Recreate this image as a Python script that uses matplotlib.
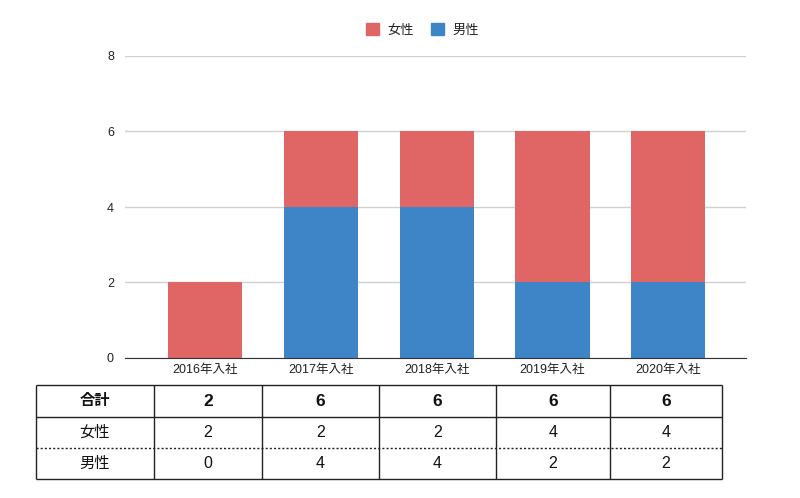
import numpy as np
import matplotlib.pyplot as plt
from matplotlib.patches import Patch

plt.rcParams['font.family'] = ['Liberation Sans', 'Noto Sans CJK JP', 'DejaVu Sans']

years = ['2016年入社', '2017年入社', '2018年入社', '2019年入社', '2020年入社']
female = [2, 2, 2, 4, 4]
male = [0, 4, 4, 2, 2]
c_female = '#e06666'
c_male = '#3d85c6'

W, H = 800, 498
fig = plt.figure(figsize=(W / 100, H / 100), dpi=100)

# chart area (pixel box converted to figure fraction)
ax = fig.add_axes([125 / W, 1 - 358 / H, (746 - 125) / W, (358 - 56) / H])
x = np.arange(len(years))
ax.bar(x, male, width=0.64, color=c_male, zorder=2)
ax.bar(x, female, width=0.64, bottom=male, color=c_female, zorder=2)
ax.set_xlim(-0.69, 4.67)
ax.set_ylim(0, 8)
ax.set_yticks([0, 2, 4, 6, 8])
ax.set_xticks(x, years)
ax.grid(axis='y', color='#d0d0d0', lw=1, zorder=0)
for s in ['top', 'right', 'left']:
    ax.spines[s].set_visible(False)
ax.spines['bottom'].set_color('#333333')
ax.tick_params(axis='both', length=0, labelsize=9, colors='#222222')
ax.tick_params(axis='x', pad=4)
ax.tick_params(axis='y', pad=8)

fig.legend(handles=[Patch(color=c_female, label='女性'), Patch(color=c_male, label='男性')],
           loc='center', bbox_to_anchor=(0.528, 1 - 30 / H), ncol=2, frameon=False,
           fontsize=9.5, handlelength=1.0, handleheight=1.0, columnspacing=1.3,
           handletextpad=0.6, labelcolor='#222222')

# table below the chart
tab = fig.add_axes([0, 0, 1, 1])
tab.set_xlim(0, W)
tab.set_ylim(H, 0)
tab.axis('off')
cols = [36, 154, 262, 379, 496, 610, 722]
rows = [385, 417, 448, 479]
tab.hlines([rows[0], rows[1], rows[3]], cols[0], cols[-1], color='#222222', lw=1)
tab.hlines(rows[2], cols[0], cols[-1], color='#222222', lw=1, linestyles=(0, (1.5, 1.5)))
tab.vlines(cols, rows[0], rows[-1], color='#222222', lw=1)

totals = [f + m for f, m in zip(female, male)]
row_data = [('合計', totals, 'bold'), ('女性', female, 'normal'), ('男性', male, 'normal')]
for r, (name, vals, wt) in enumerate(row_data):
    yc = (rows[r] + rows[r + 1]) / 2
    tab.text((cols[0] + cols[1]) / 2, yc, name, ha='center', va='center',
             fontsize=11, fontweight=wt, color='#111111')
    for i, v in enumerate(vals):
        tab.text((cols[i + 1] + cols[i + 2]) / 2, yc, str(v), ha='center', va='center',
                 fontsize=12.5 if wt == 'bold' else 11.5, fontweight=wt, color='#111111')

fig.savefig('out.png', dpi=100)
